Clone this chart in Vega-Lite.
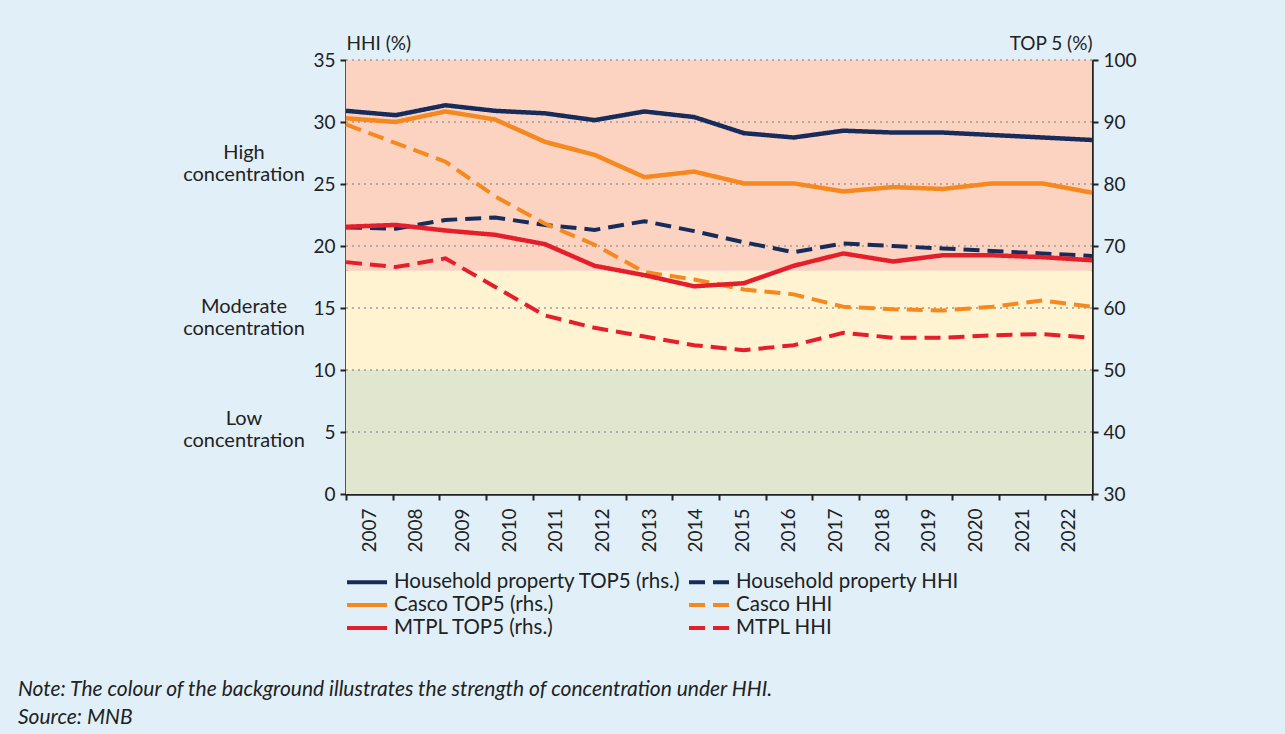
{
  "$schema": "https://vega.github.io/schema/vega-lite/v6.json",
  "autosize": {"type": "none"},
  "padding": {"left": 346, "top": 60, "right": 193, "bottom": 240},
  "width": 746,
  "height": 434,
  "background": "#e1f0f8",
  "config": {
    "font": "Lato",
    "view": {"stroke": null},
    "axis": {"labelFont": "Lato", "labelFontSize": 19, "labelColor": "#222222", "titleFont": "Lato", "titleFontSize": 19, "titleFontWeight": "normal", "titleColor": "#222222", "domainColor": "#222222", "domainWidth": 2.5, "tickColor": "#222222", "tickWidth": 2, "tickSize": 6, "grid": false},
    "legend": {"labelFont": "Lato", "labelFontSize": 20.5, "labelColor": "#222222", "labelLimit": 400}
  },
  "title": {
    "text": "Note: The colour of the background illustrates the strength of concentration under HHI.",
    "subtitle": "Source: MNB",
    "orient": "bottom",
    "anchor": "start",
    "frame": "group",
    "dx": -328,
    "offset": 40,
    "font": "Lato",
    "fontSize": 21,
    "fontStyle": "italic",
    "fontWeight": "normal",
    "color": "#222222",
    "subtitleFont": "Lato",
    "subtitleFontSize": 21,
    "subtitleFontStyle": "italic",
    "subtitleColor": "#222222",
    "subtitlePadding": 7
  },
  "datasets": {
    "bands": [
      {"band": "Low", "lo": 0, "hi": 10},
      {"band": "Moderate", "lo": 10, "hi": 18},
      {"band": "High", "lo": 18, "hi": 35}
    ],
    "grid": [{"v": 5}, {"v": 10}, {"v": 15}, {"v": 20}, {"v": 25}, {"v": 30}, {"v": 35}],
    "zones": [
      {"label": "High\nconcentration", "hhi": 26.6},
      {"label": "Moderate\nconcentration", "hhi": 14.2},
      {"label": "Low\nconcentration", "hhi": 5.2}
    ],
    "years": [
      {"year": "2007"}, {"year": "2008"}, {"year": "2009"}, {"year": "2010"},
      {"year": "2011"}, {"year": "2012"}, {"year": "2013"}, {"year": "2014"},
      {"year": "2015"}, {"year": "2016"}, {"year": "2017"}, {"year": "2018"},
      {"year": "2019"}, {"year": "2020"}, {"year": "2021"}, {"year": "2022"}
    ],
    "hhi": [
      {"year": "2007", "series": "Household property HHI", "value": 21.5},
      {"year": "2008", "series": "Household property HHI", "value": 21.4},
      {"year": "2009", "series": "Household property HHI", "value": 22.1},
      {"year": "2010", "series": "Household property HHI", "value": 22.3},
      {"year": "2011", "series": "Household property HHI", "value": 21.7},
      {"year": "2012", "series": "Household property HHI", "value": 21.3},
      {"year": "2013", "series": "Household property HHI", "value": 22.0},
      {"year": "2014", "series": "Household property HHI", "value": 21.2},
      {"year": "2015", "series": "Household property HHI", "value": 20.3},
      {"year": "2016", "series": "Household property HHI", "value": 19.5},
      {"year": "2017", "series": "Household property HHI", "value": 20.2},
      {"year": "2018", "series": "Household property HHI", "value": 20.0},
      {"year": "2019", "series": "Household property HHI", "value": 19.8},
      {"year": "2020", "series": "Household property HHI", "value": 19.6},
      {"year": "2021", "series": "Household property HHI", "value": 19.4},
      {"year": "2022", "series": "Household property HHI", "value": 19.2},
      {"year": "2007", "series": "Casco HHI", "value": 29.8},
      {"year": "2008", "series": "Casco HHI", "value": 28.3},
      {"year": "2009", "series": "Casco HHI", "value": 26.8},
      {"year": "2010", "series": "Casco HHI", "value": 24.0},
      {"year": "2011", "series": "Casco HHI", "value": 21.8},
      {"year": "2012", "series": "Casco HHI", "value": 20.1},
      {"year": "2013", "series": "Casco HHI", "value": 17.9},
      {"year": "2014", "series": "Casco HHI", "value": 17.3},
      {"year": "2015", "series": "Casco HHI", "value": 16.5},
      {"year": "2016", "series": "Casco HHI", "value": 16.1},
      {"year": "2017", "series": "Casco HHI", "value": 15.1},
      {"year": "2018", "series": "Casco HHI", "value": 14.9},
      {"year": "2019", "series": "Casco HHI", "value": 14.8},
      {"year": "2020", "series": "Casco HHI", "value": 15.1},
      {"year": "2021", "series": "Casco HHI", "value": 15.6},
      {"year": "2022", "series": "Casco HHI", "value": 15.1},
      {"year": "2007", "series": "MTPL HHI", "value": 18.7},
      {"year": "2008", "series": "MTPL HHI", "value": 18.3},
      {"year": "2009", "series": "MTPL HHI", "value": 19.0},
      {"year": "2010", "series": "MTPL HHI", "value": 16.7},
      {"year": "2011", "series": "MTPL HHI", "value": 14.4},
      {"year": "2012", "series": "MTPL HHI", "value": 13.4},
      {"year": "2013", "series": "MTPL HHI", "value": 12.7},
      {"year": "2014", "series": "MTPL HHI", "value": 12.0},
      {"year": "2015", "series": "MTPL HHI", "value": 11.6},
      {"year": "2016", "series": "MTPL HHI", "value": 12.0},
      {"year": "2017", "series": "MTPL HHI", "value": 13.0},
      {"year": "2018", "series": "MTPL HHI", "value": 12.6},
      {"year": "2019", "series": "MTPL HHI", "value": 12.6},
      {"year": "2020", "series": "MTPL HHI", "value": 12.8},
      {"year": "2021", "series": "MTPL HHI", "value": 12.9},
      {"year": "2022", "series": "MTPL HHI", "value": 12.6}
    ],
    "top5": [
      {"year": "2007", "series": "Household property TOP5 (rhs.)", "value": 91.8},
      {"year": "2008", "series": "Household property TOP5 (rhs.)", "value": 91.1},
      {"year": "2009", "series": "Household property TOP5 (rhs.)", "value": 92.7},
      {"year": "2010", "series": "Household property TOP5 (rhs.)", "value": 91.8},
      {"year": "2011", "series": "Household property TOP5 (rhs.)", "value": 91.4},
      {"year": "2012", "series": "Household property TOP5 (rhs.)", "value": 90.3},
      {"year": "2013", "series": "Household property TOP5 (rhs.)", "value": 91.7},
      {"year": "2014", "series": "Household property TOP5 (rhs.)", "value": 90.8},
      {"year": "2015", "series": "Household property TOP5 (rhs.)", "value": 88.2},
      {"year": "2016", "series": "Household property TOP5 (rhs.)", "value": 87.5},
      {"year": "2017", "series": "Household property TOP5 (rhs.)", "value": 88.6},
      {"year": "2018", "series": "Household property TOP5 (rhs.)", "value": 88.3},
      {"year": "2019", "series": "Household property TOP5 (rhs.)", "value": 88.3},
      {"year": "2020", "series": "Household property TOP5 (rhs.)", "value": 87.9},
      {"year": "2021", "series": "Household property TOP5 (rhs.)", "value": 87.5},
      {"year": "2022", "series": "Household property TOP5 (rhs.)", "value": 87.1},
      {"year": "2007", "series": "Casco TOP5 (rhs.)", "value": 90.6},
      {"year": "2008", "series": "Casco TOP5 (rhs.)", "value": 90.0},
      {"year": "2009", "series": "Casco TOP5 (rhs.)", "value": 91.7},
      {"year": "2010", "series": "Casco TOP5 (rhs.)", "value": 90.4},
      {"year": "2011", "series": "Casco TOP5 (rhs.)", "value": 86.8},
      {"year": "2012", "series": "Casco TOP5 (rhs.)", "value": 84.7},
      {"year": "2013", "series": "Casco TOP5 (rhs.)", "value": 81.1},
      {"year": "2014", "series": "Casco TOP5 (rhs.)", "value": 82.0},
      {"year": "2015", "series": "Casco TOP5 (rhs.)", "value": 80.1},
      {"year": "2016", "series": "Casco TOP5 (rhs.)", "value": 80.1},
      {"year": "2017", "series": "Casco TOP5 (rhs.)", "value": 78.8},
      {"year": "2018", "series": "Casco TOP5 (rhs.)", "value": 79.5},
      {"year": "2019", "series": "Casco TOP5 (rhs.)", "value": 79.2},
      {"year": "2020", "series": "Casco TOP5 (rhs.)", "value": 80.1},
      {"year": "2021", "series": "Casco TOP5 (rhs.)", "value": 80.1},
      {"year": "2022", "series": "Casco TOP5 (rhs.)", "value": 78.6},
      {"year": "2007", "series": "MTPL TOP5 (rhs.)", "value": 73.1},
      {"year": "2008", "series": "MTPL TOP5 (rhs.)", "value": 73.4},
      {"year": "2009", "series": "MTPL TOP5 (rhs.)", "value": 72.5},
      {"year": "2010", "series": "MTPL TOP5 (rhs.)", "value": 71.8},
      {"year": "2011", "series": "MTPL TOP5 (rhs.)", "value": 70.3},
      {"year": "2012", "series": "MTPL TOP5 (rhs.)", "value": 66.8},
      {"year": "2013", "series": "MTPL TOP5 (rhs.)", "value": 65.3},
      {"year": "2014", "series": "MTPL TOP5 (rhs.)", "value": 63.5},
      {"year": "2015", "series": "MTPL TOP5 (rhs.)", "value": 64.0},
      {"year": "2016", "series": "MTPL TOP5 (rhs.)", "value": 66.8},
      {"year": "2017", "series": "MTPL TOP5 (rhs.)", "value": 68.8},
      {"year": "2018", "series": "MTPL TOP5 (rhs.)", "value": 67.5},
      {"year": "2019", "series": "MTPL TOP5 (rhs.)", "value": 68.5},
      {"year": "2020", "series": "MTPL TOP5 (rhs.)", "value": 68.5},
      {"year": "2021", "series": "MTPL TOP5 (rhs.)", "value": 68.2},
      {"year": "2022", "series": "MTPL TOP5 (rhs.)", "value": 67.7}
    ]
  },
  "resolve": {"scale": {"x": "independent", "y": "independent"}},
  "layer": [
    {
      "resolve": {"scale": {"y": "shared", "x": "shared"}, "axis": {"y": "shared"}},
      "layer": [
        {
          "data": {"name": "bands"},
          "mark": {"type": "rect"},
          "encoding": {
            "y": {"field": "lo", "type": "quantitative", "scale": {"domain": [0, 35], "nice": false, "zero": false},
              "axis": {"orient": "left", "values": [0, 5, 10, 15, 20, 25, 30, 35], "title": "HHI (%)", "titleAngle": 0, "titleAnchor": "end", "titleAlign": "left", "titleBaseline": "alphabetic", "titleX": 0, "titleY": -11, "labelPadding": 5, "domain": true, "ticks": true}},
            "y2": {"field": "hi"},
            "fill": {"field": "band", "type": "nominal", "legend": null,
              "scale": {"domain": ["Low", "Moderate", "High"], "range": ["#e1e7cf", "#fff3d2", "#fcd3c1"]}}
          }
        },
        {
          "data": {"name": "grid"},
          "mark": {"type": "rule", "color": "#9a9a9a", "strokeWidth": 1.5, "strokeDash": [2, 4]},
          "encoding": {
            "y": {"field": "v", "type": "quantitative", "title": "HHI (%)"}
          }
        },
        {
          "data": {"name": "zones"},
          "mark": {"type": "text", "lineBreak": "\n", "align": "center", "baseline": "middle", "dx": -102, "dy": -11, "fontSize": 20, "lineHeight": 22, "color": "#222222", "font": "Lato"},
          "encoding": {
            "x": {"value": 0},
            "y": {"field": "hhi", "type": "quantitative", "title": "HHI (%)"},
            "text": {"field": "label"}
          }
        },
        {
          "data": {"name": "hhi"},
          "mark": {"type": "line", "strokeWidth": 4},
          "encoding": {
            "x": {"field": "year", "type": "ordinal", "scale": {"type": "point", "padding": 0}, "axis": null},
            "y": {"field": "value", "type": "quantitative", "title": "HHI (%)"},
            "stroke": {"field": "series", "type": "nominal"},
            "strokeDash": {"field": "series", "type": "nominal"}
          }
        }
      ]
    },
    {
      "data": {"name": "top5"},
      "mark": {"type": "line", "strokeWidth": 4.5},
      "encoding": {
        "x": {"field": "year", "type": "ordinal", "scale": {"type": "point", "padding": 0}, "axis": null},
        "y": {"field": "value", "type": "quantitative", "scale": {"domain": [30, 100], "nice": false, "zero": false},
          "axis": {"orient": "right", "values": [30, 40, 50, 60, 70, 80, 90, 100], "title": "TOP 5 (%)", "titleAngle": 0, "titleAnchor": "end", "titleAlign": "right", "titleBaseline": "alphabetic", "titleX": 0, "titleY": -11, "labelPadding": 5}},
        "stroke": {"field": "series", "type": "nominal",
          "scale": {"domain": ["Household property TOP5 (rhs.)", "Household property HHI", "Casco TOP5 (rhs.)", "Casco HHI", "MTPL TOP5 (rhs.)", "MTPL HHI"],
            "range": ["#182c5b", "#182c5b", "#f5891f", "#f5891f", "#e41e2a", "#e41e2a"]},
          "legend": {"title": null, "orient": "none", "legendX": 9, "legendY": 510, "direction": "horizontal", "columns": 2, "columnPadding": 0, "rowPadding": 0, "padding": 0, "symbolType": "M-2,0H2", "symbolSize": 400, "symbolStrokeWidth": 4, "labelOffset": 15, "labelFontSize": 20.5}},
        "strokeDash": {"field": "series", "type": "nominal",
          "scale": {"domain": ["Household property TOP5 (rhs.)", "Household property HHI", "Casco TOP5 (rhs.)", "Casco HHI", "MTPL TOP5 (rhs.)", "MTPL HHI"],
            "range": [[1, 0], [16, 8], [1, 0], [16, 8], [1, 0], [16, 8]]},
          "legend": {"title": null, "orient": "none", "legendX": 9, "legendY": 510, "direction": "horizontal", "columns": 2, "columnPadding": 0, "rowPadding": 0, "padding": 0, "symbolType": "M-2,0H2", "symbolSize": 400, "symbolStrokeWidth": 4, "labelOffset": 15, "labelFontSize": 20.5}}
      }
    },
    {
      "data": {"name": "years"},
      "mark": {"type": "point", "opacity": 0},
      "encoding": {
        "x": {"field": "year", "type": "ordinal", "scale": {"type": "band", "paddingInner": 0, "paddingOuter": 0},
          "axis": {"orient": "bottom", "title": null, "labelAngle": -90, "labelAlign": "right", "labelBaseline": "middle", "labelPadding": 8, "tickBand": "extent", "domain": true}}
      }
    }
  ]
}
